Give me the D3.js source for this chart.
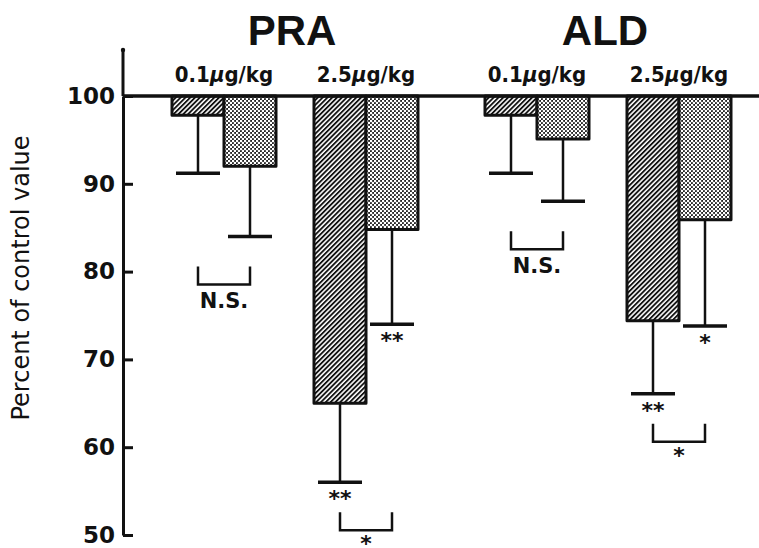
<!DOCTYPE html>
<html>
<head>
    <meta charset="utf-8">
    <title>PRA / ALD percent of control</title>
    <script src="https://cdn.jsdelivr.net/npm/d3@7"></script>
    <style>
        body { margin: 0; background: #fff; }
        svg { display: block; }
        .tick text { font-family: "DejaVu Sans", sans-serif; font-weight: bold; font-size: 23px; fill: #111; }
    </style>
</head>
<body>
<div id="app"></div>

<script>
    // order of groups: PRA 0.1, PRA 2.5, ALD 0.1, ALD 2.5
    const drugs = ["PRA", "ALD"];
    const doses = ["0.1", "2.5"];
    const treatments = ["A", "B"]; // A = hatched bar, B = dotted bar

    const meanA = [97.8, 65.0, 97.8, 74.4];
    const sdA = [6.6, 9.0, 6.6, 8.3];
    const meanB = [92.0, 84.8, 95.1, 85.9];
    const sdB = [8.0, 10.8, 7.1, 12.1];

    const starsA = ["", "**", "", "**"];
    const starsB = ["", "**", "", "*"];
    const pairMarks = ["N.S.", "*", "N.S.", "*"];

    const yTicks = [50, 60, 70, 80, 90, 100];

    const w = 759, h = 548;
    const svg = d3.select('#app').append('svg').attr('width', w).attr('height', h);

    const y = d3.scaleLinear().domain([50, 100]).range([535, 96]);
    const xDrug = d3.scalePoint().domain(drugs).range([295, 608]);
    const xDose = d3.scalePoint().domain(doses).range([-71, 71]);
    const xTreat = d3.scaleBand().domain(treatments).range([-52, 52]);

    const groups = [];
    drugs.forEach(function (dr) {
        doses.forEach(function (ds) {
            const i = groups.length;
            groups.push({
                drug: dr, dose: ds, cx: xDrug(dr) + xDose(ds),
                bars: [
                    {t: "A", mean: meanA[i], sd: sdA[i], star: starsA[i]},
                    {t: "B", mean: meanB[i], sd: sdB[i], star: starsB[i]}
                ],
                mark: pairMarks[i]
            });
        });
    });

    // patterns
    const defs = svg.append('defs');
    const hatch = defs.append('pattern').attr('id', 'hatch')
        .attr('patternUnits', 'userSpaceOnUse').attr('width', 3.4).attr('height', 3.4)
        .attr('patternTransform', 'rotate(45)');
    hatch.append('rect').attr('width', 3.4).attr('height', 3.4).attr('fill', '#fff');
    hatch.append('line').attr('x1', 0.9).attr('x2', 0.9).attr('y1', 0).attr('y2', 3.4)
        .attr('stroke', '#111').attr('stroke-width', 1.9);

    const dots = defs.append('pattern').attr('id', 'dots')
        .attr('patternUnits', 'userSpaceOnUse').attr('width', 4).attr('height', 4);
    dots.append('rect').attr('width', 4).attr('height', 4).attr('fill', '#222');
    dots.append('circle').attr('cx', 1).attr('cy', 1).attr('r', 1.3).attr('fill', '#fff');
    dots.append('circle').attr('cx', 3).attr('cy', 3).attr('r', 1.3).attr('fill', '#fff');

    // y axis, ticks pointing inward
    const axis = d3.axisLeft(y).tickValues(yTicks).tickSizeInner(-10).tickSizeOuter(0).tickPadding(8);
    const ax = svg.append('g').attr('transform', 'translate(123,0)').call(axis);
    ax.select('.domain').attr('stroke', '#111').attr('stroke-width', 3);
    ax.selectAll('.tick line').attr('stroke', '#111').attr('stroke-width', 3);
    ax.append('line').attr('x1', 0).attr('x2', 0).attr('y1', y(100)).attr('y2', y(100) - 46)
        .attr('stroke', '#111').attr('stroke-width', 3);
    ax.append('circle').attr('cx', 0).attr('cy', y(100) - 46).attr('r', 2.2).attr('fill', '#111');

    svg.append('text')
        .attr('transform', 'translate(29,' + 278 + ') rotate(-90)')
        .attr('text-anchor', 'middle')
        .style('font-family', '"DejaVu Sans", sans-serif').style('font-size', '24px').attr('fill', '#111')
        .text('Percent of control value');

    // drug titles
    svg.selectAll('text.drug')
        .data(drugs)
        .enter()
        .append('text')
        .attr('class', 'drug')
        .attr('x', function (d) { return xDrug(d) - 3; })
        .attr('y', 45)
        .attr('text-anchor', 'middle')
        .style('font-family', '"Liberation Sans", Arial, sans-serif').style('font-weight', 'bold')
        .style('font-size', '42px').attr('fill', '#111')
        .text(function (d) { return d; });

    // dose labels
    const doseText = svg.selectAll('text.dose')
        .data(groups)
        .enter()
        .append('text')
        .attr('class', 'dose')
        .attr('x', function (d) { return d.cx; })
        .attr('y', 82)
        .attr('text-anchor', 'middle')
        .style('font-family', '"DejaVu Sans Condensed", "DejaVu Sans", sans-serif')
        .style('font-stretch', 'condensed').style('font-weight', 'bold')
        .style('font-size', '22px').attr('fill', '#111');
    doseText.append('tspan').text(function (d) { return d.dose; });
    doseText.append('tspan').style('font-style', 'italic').text('μ');
    doseText.append('tspan').text('g/kg');

    // bars
    const g = svg.selectAll('g.grp')
        .data(groups)
        .enter()
        .append('g')
        .attr('class', 'grp')
        .attr('transform', function (d) { return 'translate(' + d.cx + ',0)'; });

    const bar = g.selectAll('g.bar')
        .data(function (d) { return d.bars; })
        .enter()
        .append('g')
        .attr('class', 'bar');

    // error bars (below bar bottom)
    bar.append('line')
        .attr('x1', function (d) { return xTreat(d.t) + xTreat.bandwidth() / 2; })
        .attr('x2', function (d) { return xTreat(d.t) + xTreat.bandwidth() / 2; })
        .attr('y1', function (d) { return y(d.mean); })
        .attr('y2', function (d) { return y(d.mean - d.sd); })
        .attr('stroke', '#111').attr('stroke-width', 2.5);
    bar.append('line')
        .attr('x1', function (d) { return xTreat(d.t) + xTreat.bandwidth() / 2 - 22; })
        .attr('x2', function (d) { return xTreat(d.t) + xTreat.bandwidth() / 2 + 22; })
        .attr('y1', function (d) { return y(d.mean - d.sd); })
        .attr('y2', function (d) { return y(d.mean - d.sd); })
        .attr('stroke', '#111').attr('stroke-width', 3.5);

    bar.append('rect')
        .attr('x', function (d) { return xTreat(d.t); })
        .attr('y', y(100))
        .attr('width', xTreat.bandwidth())
        .attr('height', function (d) { return y(d.mean) - y(100); })
        .attr('fill', function (d) { return d.t === 'A' ? 'url(#hatch)' : 'url(#dots)'; })
        .attr('stroke', '#111').attr('stroke-width', 3).attr('stroke-linejoin', 'round');

    // stars under error caps
    bar.append('text')
        .attr('x', function (d) { return xTreat(d.t) + xTreat.bandwidth() / 2; })
        .attr('y', function (d) { return y(d.mean - d.sd) + 24; })
        .attr('text-anchor', 'middle')
        .style('font-family', '"DejaVu Sans", sans-serif').style('font-weight', 'bold')
        .style('font-size', '22px').attr('fill', '#111')
        .text(function (d) { return d.star; });

    // comparison brackets between the two bars
    g.each(function (d) {
        const gg = d3.select(this);
        const xa = xTreat('A') + xTreat.bandwidth() / 2;
        const xb = xTreat('B') + xTreat.bandwidth() / 2;
        const low = d3.min(d.bars, function (b) { return b.mean - b.sd; });
        const yb = y(low) + 48;
        gg.append('path')
            .attr('d', 'M' + xa + ',' + (yb - 18) + 'V' + yb + 'H' + xb + 'V' + (yb - 18))
            .attr('fill', 'none').attr('stroke', '#111').attr('stroke-width', 2.5);
        const ns = d.mark === 'N.S.';
        // like the original, the lowest star runs into the bottom edge of the page
        gg.append('text')
            .attr('x', (xa + xb) / 2)
            .attr('y', ns ? yb + 24 : yb + 21)
            .attr('text-anchor', 'middle')
            .style('font-family', '"DejaVu Sans", sans-serif').style('font-weight', 'bold')
            .style('font-size', ns ? '21px' : '22px').attr('fill', '#111')
            .text(d.mark);
    });

    // 100 % reference line
    svg.append('line')
        .attr('x1', 123).attr('x2', w)
        .attr('y1', y(100)).attr('y2', y(100))
        .attr('stroke', '#111').attr('stroke-width', 3.5);
</script>
</body>
</html>
